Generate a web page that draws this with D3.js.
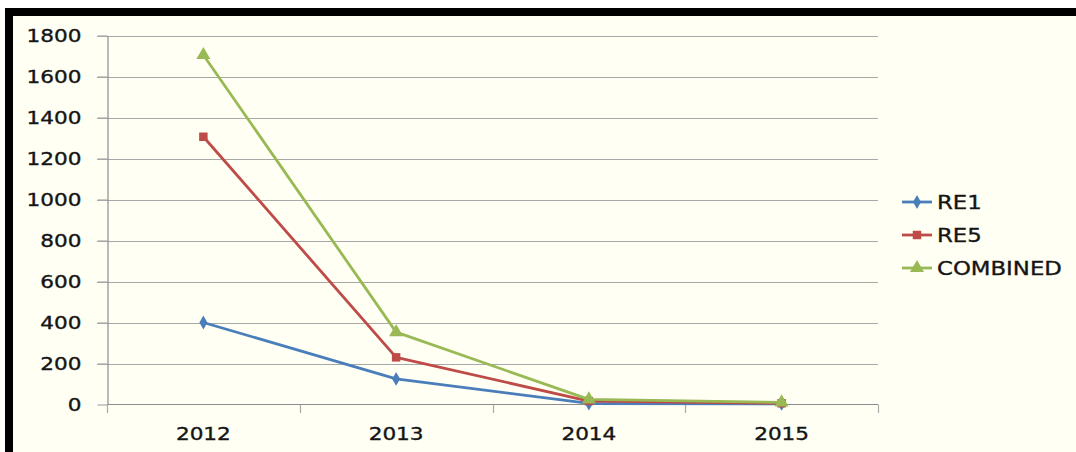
<!DOCTYPE html>
<html><head><meta charset="utf-8">
<script src="https://cdn.jsdelivr.net/npm/d3@7"></script>
<style>html,body{margin:0;padding:0;background:#fff;}svg{display:block;}</style>
</head><body>
<script>
const categories = ["2012", "2013", "2014", "2015"];
const seriesNames = ["RE1", "RE5", "COMBINED"];
const re1 = [400, 125, 5, 3];
const re5 = [1306, 230, 17, 6];
const combined = [1705, 353, 25, 10];
const yTicks = [0, 200, 400, 600, 800, 1000, 1200, 1400, 1600, 1800];

const W = 1076, H = 452;
const colors = ["#4a7ebb", "#be4b48", "#98b954"];
const shapes = [d3.symbolDiamond, d3.symbolSquare, d3.symbolTriangle];
const sizes = [55, 72, 85];
const SX = 1.2;
const font = "'DejaVu Sans', Verdana, sans-serif";

const svg = d3.select("body").append("svg").attr("width", W).attr("height", H);
svg.append("rect").attr("x",0).attr("y",0).attr("width",W).attr("height",H).attr("fill","#fff");
svg.append("rect").attr("x",13).attr("y",16).attr("width",W-13).attr("height",H-16).attr("fill","#fffff4");
svg.append("rect").attr("x",5).attr("y",8).attr("width",W-5).attr("height",8).attr("fill","#000");
svg.append("rect").attr("x",5).attr("y",8).attr("width",8).attr("height",H-8).attr("fill","#000");

const x = d3.scaleBand().domain(categories).range([107, 878]).padding(0);
const y = d3.scaleLinear().domain([0, 1800]).range([404.5, 35.5]);

function styleText(sel){
  sel.attr("font-family", font).attr("fill","#151515")
     .attr("stroke","#151515").attr("stroke-width",0.35);
}

// gridlines
svg.append("g").selectAll("line").data(yTicks.filter(d=>d>0)).join("line")
  .attr("x1", 97).attr("x2", 878)
  .attr("y1", d=>Math.round(y(d))+0.5).attr("y2", d=>Math.round(y(d))+0.5)
  .attr("stroke", "#a8a8a8").attr("stroke-width", 1.2);

// y axis
const yAxis = svg.append("g").attr("transform","translate(107.5,0)")
  .call(d3.axisLeft(y).tickValues(yTicks).tickFormat(d3.format("d")).tickSize(10).tickSizeOuter(0));
yAxis.select(".domain").attr("stroke","#8c8c8c").attr("stroke-width",1.2);
yAxis.selectAll(".tick line").attr("stroke","#a8a8a8").attr("stroke-width",1.2);
yAxis.selectAll(".tick text")
  .attr("x", -26/SX).attr("dy","0.36em")
  .attr("transform", `scale(${SX},1)`)
  .attr("font-size", 18).call(styleText);

// x axis
const edges = categories.map(c=>x(c)).concat([x.range()[1]]);
const xg = svg.append("g");
xg.append("line").attr("x1",107).attr("x2",878).attr("y1",404.5).attr("y2",404.5)
  .attr("stroke","#8c8c8c").attr("stroke-width",1.2);
xg.selectAll("line.t").data(edges).join("line").attr("class","t")
  .attr("x1",d=>Math.round(d)+0.5).attr("x2",d=>Math.round(d)+0.5)
  .attr("y1",404.5).attr("y2",413).attr("stroke","#a8a8a8").attr("stroke-width",1.2);
xg.selectAll("text").data(categories).join("text")
  .attr("transform", d=>`translate(${x(d)+x.bandwidth()/2},440) scale(${SX},1)`)
  .attr("text-anchor","middle").attr("font-size",18).call(styleText)
  .text(d=>d);

// series
const data = [re1, re5, combined];
const line = d3.line().x((d,i)=>x(categories[i])+x.bandwidth()/2).y(d=>y(d));
data.forEach((vals, s) => {
  const g = svg.append("g");
  g.append("path").datum(vals).attr("d", line).attr("fill","none")
    .attr("stroke", colors[s]).attr("stroke-width", 2.8).attr("stroke-linejoin","round");
  g.selectAll("path.m").data(vals).join("path").attr("class","m")
    .attr("d", d3.symbol().type(shapes[s]).size(sizes[s]))
    .attr("transform",(d,i)=>`translate(${x(categories[i])+x.bandwidth()/2},${y(d)})`)
    .attr("fill", colors[s]);
});

// legend
const ly = [202, 235, 268];
seriesNames.forEach((n, s) => {
  const g = svg.append("g");
  g.append("line").attr("x1",902).attr("x2",932).attr("y1",ly[s]).attr("y2",ly[s])
    .attr("stroke",colors[s]).attr("stroke-width",2.8);
  g.append("path").attr("d", d3.symbol().type(shapes[s]).size(sizes[s]))
    .attr("transform",`translate(917,${ly[s]})`).attr("fill",colors[s]);
  g.append("text").attr("transform",`translate(937,${ly[s]+7}) scale(${SX},1)`)
    .attr("font-size",19).call(styleText).text(n);
});
</script>
</body></html>
